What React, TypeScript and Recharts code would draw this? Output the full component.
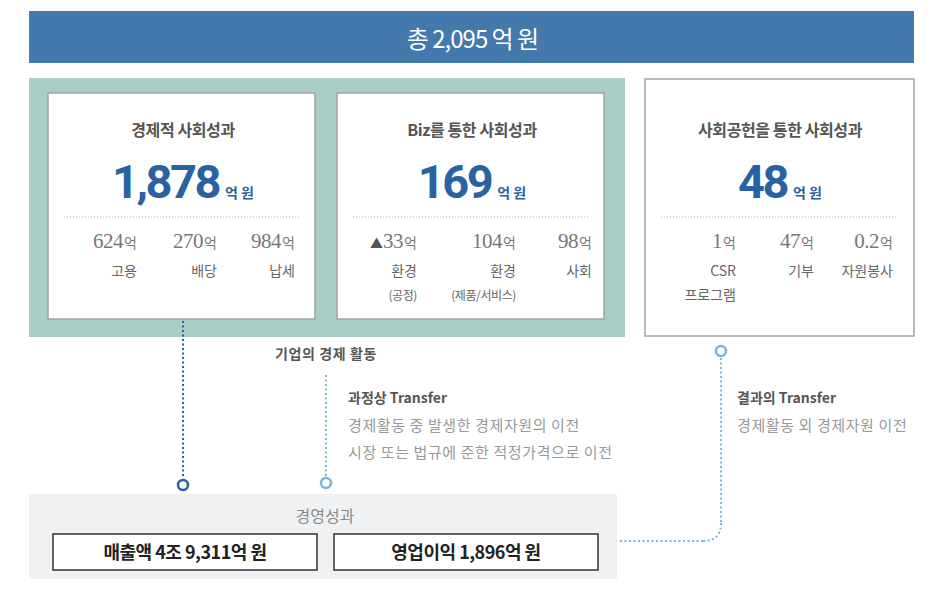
import React from "react";
import {
  ComposedChart,
  XAxis,
  YAxis,
  ReferenceArea,
  ReferenceLine,
  ReferenceDot,
  Customized,
} from "recharts";

// ---------- data ----------
const totalLabel = "총";
const totalValue = "2,095";
const unitLabel = "억 원";
const unitShort = "억";

const panelTitles = ["경제적 사회성과", "Biz를 통한 사회성과", "사회공헌을 통한 사회성과"];
const panelTotals = ["1,878", "169", "48"];
const panelItemValues = [
  ["624", "270", "984"],
  ["▲33", "104", "98"],
  ["1", "47", "0.2"],
];
const panelItemLabels = [
  [["고용"], ["배당"], ["납세"]],
  [["환경", "(공정)"], ["환경", "(제품/서비스)"], ["사회"]],
  [["CSR", "프로그램"], ["기부"], ["자원봉사"]],
];

const flowCaption = "기업의 경제 활동";
const processTitle = "과정상 Transfer";
const processLines = ["경제활동 중 발생한 경제자원의 이전", "시장 또는 법규에 준한 적정가격으로 이전"];
const resultTitle = "결과의 Transfer";
const resultLines = ["경제활동 외 경제자원 이전"];

const bizTitle = "경영성과";
const bizItems = ["매출액 4조 9,311억 원", "영업이익 1,896억 원"];

// ---------- layout / style ----------
const W = 952;
const H = 589;
const FONT = "'Noto Sans CJK KR', 'Noto Sans', sans-serif";
const NUMFONT = "Roboto, 'Liberation Sans', sans-serif";
const SERIF = "'Liberation Serif', 'DejaVu Serif', serif";
const BLUE = "#2962a3";
const BAR = "#4479ad";
const TEAL = "#a7cdc6";
const DARK_DOT = "#2b5f9e";
const LIGHT_DOT = "#79b6d8";

const panelBoxes = [
  { x1: 48, x2: 315, y1: 93, y2: 319, dx: 1.5, title: 43, cols: [89, 169, 247] },
  { x1: 337, x2: 604, y1: 93, y2: 319, dx: 1.5, title: 43, cols: [80, 179, 255] },
  { x1: 645, x2: 914, y1: 79, y2: 336, dx: 0.5, title: 57, cols: [91, 169, 248] },
];
const bizBoxes = [
  { x1: 53, x2: 317 },
  { x1: 334, x2: 598 },
];

type VB = { x: number; y: number; width: number; height: number };
const getVB = (props: any, fb: VB): VB => {
  const v = props && props.viewBox;
  if (v && typeof v.x === "number" && typeof v.width === "number") return v;
  return fb;
};

function PanelContent(props: any) {
  const i: number = props.idx;
  const b = panelBoxes[i];
  const vb = getVB(props, { x: b.x1, y: b.y1, width: b.x2 - b.x1, height: b.y2 - b.y1 });
  const cx = vb.x + vb.width / 2 + b.dx;
  const top = vb.y + b.title; // title baseline
  return (
    <g fontFamily={FONT}>
      <text x={cx} y={top} textAnchor="middle" fill="#555" fontSize={16} fontWeight={700} letterSpacing={-0.4}>
        {panelTitles[i]}
      </text>
      <text x={cx} y={top + 62} textAnchor="middle" fill={BLUE} fontWeight={700}>
        <tspan fontFamily={NUMFONT} fontSize={47} letterSpacing={-2.5}>{panelTotals[i]}</tspan>
        <tspan fontSize={14} dx={6}>{unitLabel}</tspan>
      </text>
      {panelItemValues[i].map((v, j) => {
        const tri = v.startsWith("▲");
        const num = tri ? v.slice(1) : v;
        const rx = vb.x + b.cols[j];
        return (
          <g key={j}>
            <text x={rx} y={top + 112} textAnchor="end" fill="#777">
              {tri && (
                <tspan fontFamily={FONT} fontSize={13} fill="#555">▲</tspan>
              )}
              <tspan fontFamily={SERIF} fontSize={21} letterSpacing={-0.5}>{num}</tspan>
              <tspan fontFamily={FONT} fontSize={14} dx={1}>{unitShort}</tspan>
            </text>
            {panelItemLabels[i][j].map((l, k) => (
              <text
                key={k}
                x={rx}
                y={top + (k === 0 ? 140 : 164)}
                textAnchor="end"
                fill="#666"
                fontSize={l.startsWith("(") ? 12 : 14}
                letterSpacing={l.startsWith("(") ? -0.4 : 0}
              >
                {l}
              </text>
            ))}
          </g>
        );
      })}
    </g>
  );
}

function BarContent(props: any) {
  const vb = getVB(props, { x: 29, y: 11, width: 885, height: 52 });
  return (
    <text
      x={vb.x + vb.width / 2 + 1}
      y={vb.y + 37}
      textAnchor="middle"
      fill="#fff"
      fontFamily={FONT}
      fontSize={24}
      letterSpacing={-1}
    >
      {`${totalLabel} ${totalValue} ${unitLabel}`}
    </text>
  );
}

function GrayContent(props: any) {
  const vb = getVB(props, { x: 29, y: 494, width: 588, height: 85 });
  return (
    <text x={vb.x + vb.width / 2 + 2} y={vb.y + 28} textAnchor="middle" fill="#888" fontFamily={FONT} fontSize={16}>
      {bizTitle}
    </text>
  );
}

function BizContent(props: any) {
  const i: number = props.idx;
  const b = bizBoxes[i];
  const vb = getVB(props, { x: b.x1, y: 534, width: b.x2 - b.x1, height: 36 });
  return (
    <text
      x={vb.x + vb.width / 2}
      y={vb.y + 25}
      textAnchor="middle"
      fill="#222"
      fontFamily={FONT}
      fontSize={18}
      fontWeight={700}
      letterSpacing={-0.5}
    >
      {bizItems[i]}
    </text>
  );
}

function Texts() {
  return (
    <g fontFamily={FONT}>
      <text x={275} y={359} fill="#555" fontSize={14} fontWeight={700} letterSpacing={0.6}>
        {flowCaption}
      </text>

      <text x={348} y={403} fill="#555" fontSize={14} fontWeight={700}>
        {processTitle}
      </text>
      {processLines.map((l, i) => (
        <text key={i} x={348} y={431 + i * 27} fill="#999" fontSize={15} letterSpacing={0.6}>
          {l}
        </text>
      ))}

      <text x={737} y={403} fill="#555" fontSize={14} fontWeight={700}>
        {resultTitle}
      </text>
      {resultLines.map((l, i) => (
        <text key={i} x={737} y={431 + i * 27} fill="#999" fontSize={15} letterSpacing={0.6}>
          {l}
        </text>
      ))}

      {/* curved connector corner */}
      <path d={`M721,523 Q721,541 703,541`} fill="none" stroke={LIGHT_DOT} strokeWidth={2} strokeDasharray="2 2.5" />
    </g>
  );
}

export default function App() {
  return (
    <div style={{ position: "absolute", left: 0, top: 0, width: W, height: H, background: "#fff" }}>
      <ComposedChart width={W} height={H} data={[]} margin={{ top: 0, right: 0, bottom: 0, left: 0 }}>
        <XAxis type="number" dataKey="x" domain={[0, W]} allowDataOverflow hide />
        <YAxis type="number" dataKey="y" domain={[0, H]} allowDataOverflow reversed hide />

        {/* top bar */}
        <ReferenceArea
          x1={29}
          x2={914}
          y1={11}
          y2={63}
          fill={BAR}
          fillOpacity={1}
          stroke="none"
          label={<BarContent />}
        />
        {/* teal background */}
        <ReferenceArea x1={29} x2={625} y1={78} y2={337} fill={TEAL} fillOpacity={1} stroke="none" />
        {/* panels */}
        {panelBoxes.map((b, i) => (
          <ReferenceArea
            key={`p${i}`}
            x1={b.x1}
            x2={b.x2}
            y1={b.y1}
            y2={b.y2}
            fill="#fff"
            fillOpacity={1}
            stroke="#a3a3a3"
            strokeWidth={1.5}
            label={<PanelContent idx={i} />}
          />
        ))}
        {/* separators */}
        {panelBoxes.map((b, i) => (
          <ReferenceLine
            key={`s${i}`}
            segment={[
              { x: b.x1 + 16, y: 217 },
              { x: b.x2 - 16, y: 217 },
            ]}
            stroke="#b5b5b5"
            strokeWidth={1}
            strokeDasharray="1 2"
          />
        ))}

        {/* bottom gray area */}
        <ReferenceArea
          x1={29}
          x2={617}
          y1={494}
          y2={579}
          fill="#f0f1f3"
          fillOpacity={1}
          stroke="none"
          label={<GrayContent />}
        />
        {bizBoxes.map((b, i) => (
          <ReferenceArea
            key={`b${i}`}
            x1={b.x1}
            x2={b.x2}
            y1={534}
            y2={570}
            fill="#fff"
            fillOpacity={1}
            stroke="#333"
            strokeWidth={1.5}
            label={<BizContent idx={i} />}
          />
        ))}

        {/* connectors */}
        <ReferenceLine
          segment={[
            { x: 183, y: 321 },
            { x: 183, y: 478 },
          ]}
          stroke={DARK_DOT}
          strokeWidth={2}
          strokeDasharray="2 2.5"
        />
        <ReferenceLine
          segment={[
            { x: 326, y: 375 },
            { x: 326, y: 476 },
          ]}
          stroke={LIGHT_DOT}
          strokeWidth={2}
          strokeDasharray="2 2.5"
        />
        <ReferenceLine
          segment={[
            { x: 721, y: 358 },
            { x: 721, y: 523 },
          ]}
          stroke={LIGHT_DOT}
          strokeWidth={2}
          strokeDasharray="2 2.5"
        />
        <ReferenceLine
          segment={[
            { x: 703, y: 541 },
            { x: 618, y: 541 },
          ]}
          stroke={LIGHT_DOT}
          strokeWidth={2}
          strokeDasharray="2 2.5"
        />
        <ReferenceDot x={183} y={485} r={5} fill="#fff" stroke={DARK_DOT} strokeWidth={2.5} />
        <ReferenceDot x={326} y={483} r={5} fill="#fff" stroke={LIGHT_DOT} strokeWidth={2.5} />
        <ReferenceDot x={721} y={351} r={5} fill="#fff" stroke={LIGHT_DOT} strokeWidth={2.5} />

        <Customized component={Texts} />
      </ComposedChart>
    </div>
  );
}
